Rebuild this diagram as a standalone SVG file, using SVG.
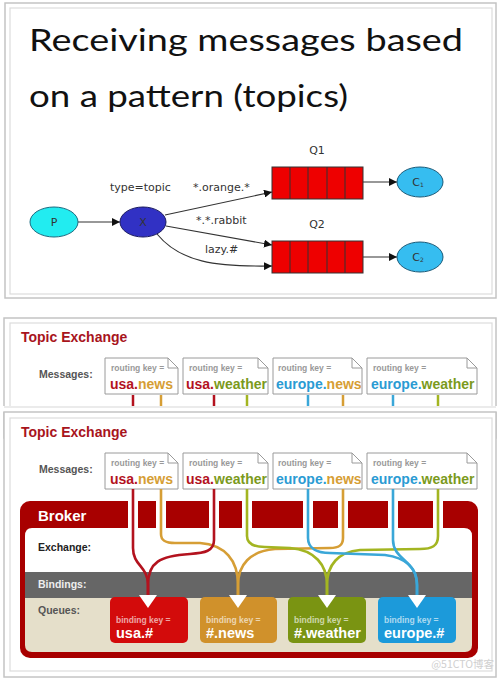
<svg xmlns="http://www.w3.org/2000/svg" width="500" height="678" viewBox="0 0 500 678">
<defs>
<marker id="ah" viewBox="0 0 10 10" refX="10" refY="5" markerWidth="8" markerHeight="8" markerUnits="userSpaceOnUse" orient="auto"><path d="M0,0 L10,5 L0,10 Z" fill="#111"/></marker>
<style>
.frame-o{fill:#fff;stroke:#c4c4c4;stroke-width:1.5}
.frame-i{fill:none;stroke:#dcdcdc;stroke-width:1.2}
.title{font-family:Lato,"Open Sans",sans-serif;font-size:31px;fill:#111}
.g{font-family:"DejaVu Sans",sans-serif;font-size:11px;fill:#333}
.edge{fill:none;stroke:#333;stroke-width:1.1}
.q{fill:#ee0000;stroke:#333;stroke-width:1}
.te{font-family:"Liberation Sans",Arial,sans-serif;font-weight:bold;font-size:14px;fill:#a8141c}
.lbl{font-family:"Liberation Sans",Arial,sans-serif;font-weight:bold;font-size:10.5px;fill:#555}
.msg{fill:#fff;stroke:#9a9a9a;stroke-width:1}
.rk{font-family:"Liberation Sans",Arial,sans-serif;font-weight:bold;font-size:8.5px;fill:#999}
.big{font-family:"Liberation Sans",Arial,sans-serif;font-weight:bold;font-size:14px}
.cr{fill:#b3121e}.co{fill:#d69e35}.cg{fill:#7b9a1c}.cb{fill:#2a9bd3}
.tick{stroke-width:2.5}
.route{fill:none;stroke-width:2.6}
.bk{font-family:"Liberation Sans",Arial,sans-serif;font-weight:bold;font-size:10.5px}
.bkt{font-family:"Liberation Sans",Arial,sans-serif;font-weight:bold;font-size:15px;fill:#fff}
.bq{font-family:"Liberation Sans",Arial,sans-serif;font-weight:bold;font-size:8.5px;fill:#fff;fill-opacity:0.65}
.bqb{font-family:"Liberation Sans",Arial,sans-serif;font-weight:bold;font-size:14.5px;fill:#fff}
</style>
</defs>
<rect width="500" height="678" fill="#fff"/>

<!-- Panel 1 -->
<g id="panel1">
<rect class="frame-o" x="5" y="3" width="491" height="295"/>
<rect class="frame-i" x="10" y="8" width="482" height="286"/>
<text class="title" x="29" y="51" textLength="434" lengthAdjust="spacingAndGlyphs">Receiving messages based</text>
<text class="title" x="29" y="107" textLength="319" lengthAdjust="spacingAndGlyphs">on a pattern (topics)</text>
</g>

<g id="connectors1">
<line class="edge" x1="78" y1="222" x2="120" y2="222" marker-end="url(#ah)"/>
<line class="edge" x1="165" y1="215" x2="272" y2="192" marker-end="url(#ah)"/>
<line class="edge" x1="166" y1="226" x2="272" y2="245" marker-end="url(#ah)"/>
<path class="edge" d="M157,234 C180,262 215,267 272,266" marker-end="url(#ah)"/>
<line class="edge" x1="363" y1="182" x2="397" y2="182" marker-end="url(#ah)"/>
<line class="edge" x1="363" y1="257" x2="397" y2="257" marker-end="url(#ah)"/>
<text class="g" x="110" y="191">type=topic</text>
<text class="g" x="193" y="191">*.orange.*</text>
<text class="g" x="196" y="224">*.*.rabbit</text>
<text class="g" x="205" y="253">lazy.#</text>
</g>

<g id="P"><ellipse cx="54" cy="222" rx="24" ry="15" fill="#22ecf0" stroke="#1a6b80" stroke-width="1"/><text class="g" x="54" y="226" text-anchor="middle" font-size="10">P</text></g>
<g id="X"><ellipse cx="143" cy="222" rx="23" ry="15" fill="#3131c4" stroke="#1a1a60" stroke-width="1"/><text class="g" x="143" y="226" text-anchor="middle" font-size="10" fill="#111">X</text></g>
<g id="Q1">
<text class="g" x="317" y="154" text-anchor="middle">Q1</text>
<rect class="q" x="272" y="167" width="91" height="32"/>
<path d="M290,167 V199 M308,167 V199 M327,167 V199 M345,167 V199" stroke="#333" stroke-width="1"/>
</g>
<g id="Q2">
<text class="g" x="317" y="228" text-anchor="middle">Q2</text>
<rect class="q" x="272" y="241" width="91" height="32"/>
<path d="M290,241 V273 M308,241 V273 M327,241 V273 M345,241 V273" stroke="#333" stroke-width="1"/>
</g>
<g id="C1"><ellipse cx="420" cy="182" rx="23" ry="15" fill="#36bdf0" stroke="#1a5a78" stroke-width="1"/><text class="g" x="418" y="186" text-anchor="middle" font-size="10">C<tspan font-size="6" dy="1">1</tspan></text></g>
<g id="C2"><ellipse cx="420" cy="257" rx="23" ry="15" fill="#36bdf0" stroke="#1a5a78" stroke-width="1"/><text class="g" x="418" y="261" text-anchor="middle" font-size="10">C<tspan font-size="6" dy="1">2</tspan></text></g>

<!-- Panel 2 -->
<g id="panel2">
<rect class="frame-o" x="4" y="318" width="492" height="120"/>
<rect class="frame-i" x="10" y="323" width="482" height="110"/>
<text class="te" x="21" y="342">Topic Exchange</text>
<text class="lbl" x="39" y="378">Messages:</text>
<g id="m2a"><path class="msg" d="M105,358 H168 L178,368 V394 H105 Z M168,358 V368 H178"/><text class="rk" x="111" y="371">routing key =</text><text class="big" x="110" y="389"><tspan class="cr">usa.</tspan><tspan class="co">news</tspan></text></g>
<g id="m2b"><path class="msg" d="M183,358 H258 L268,368 V394 H183 Z M258,358 V368 H268"/><text class="rk" x="189" y="371">routing key =</text><text class="big" x="186" y="389"><tspan class="cr">usa.</tspan><tspan class="cg">weather</tspan></text></g>
<g id="m2c"><path class="msg" d="M273,358 H352 L362,368 V394 H273 Z M352,358 V368 H362"/><text class="rk" x="278" y="371">routing key =</text><text class="big" x="276" y="389"><tspan class="cb">europe.</tspan><tspan class="co">news</tspan></text></g>
<g id="m2d"><path class="msg" d="M367,358 H467 L477,368 V394 H367 Z M467,358 V368 H477"/><text class="rk" x="373" y="371">routing key =</text><text class="big" x="371" y="389"><tspan class="cb">europe.</tspan><tspan class="cg">weather</tspan></text></g>
<g class="tick">
<line x1="133" y1="395" x2="133" y2="406" stroke="#b3121e"/>
<line x1="161" y1="395" x2="161" y2="406" stroke="#d69e35"/>
<line x1="214" y1="395" x2="214" y2="406" stroke="#b3121e"/>
<line x1="247" y1="395" x2="247" y2="406" stroke="#a3b521"/>
<line x1="308" y1="395" x2="308" y2="406" stroke="#3aa7d8"/>
<line x1="343" y1="395" x2="343" y2="406" stroke="#d69e35"/>
<line x1="393" y1="395" x2="393" y2="406" stroke="#3aa7d8"/>
<line x1="438" y1="395" x2="438" y2="406" stroke="#a3b521"/>
</g>
</g>

<!-- Panel 3 -->
<g id="panel3">
<rect x="0" y="406" width="500" height="6" fill="#fff"/>
<line x1="4" y1="407" x2="496" y2="407" stroke="#e4e4e4" stroke-width="1.5"/>
<rect class="frame-o" x="4" y="412" width="492" height="265"/>
<rect class="frame-i" x="10" y="418" width="482" height="253"/>
<text class="te" x="21" y="437">Topic Exchange</text>
<text class="lbl" x="39" y="473">Messages:</text>
<g id="m3a"><path class="msg" d="M105,453 H168 L178,463 V489 H105 Z M168,453 V463 H178"/><text class="rk" x="111" y="466">routing key =</text><text class="big" x="110" y="484"><tspan class="cr">usa.</tspan><tspan class="co">news</tspan></text></g>
<g id="m3b"><path class="msg" d="M183,453 H258 L268,463 V489 H183 Z M258,453 V463 H268"/><text class="rk" x="189" y="466">routing key =</text><text class="big" x="186" y="484"><tspan class="cr">usa.</tspan><tspan class="cg">weather</tspan></text></g>
<g id="m3c"><path class="msg" d="M273,453 H352 L362,463 V489 H273 Z M352,453 V463 H362"/><text class="rk" x="278" y="466">routing key =</text><text class="big" x="276" y="484"><tspan class="cb">europe.</tspan><tspan class="co">news</tspan></text></g>
<g id="m3d"><path class="msg" d="M367,453 H467 L477,463 V489 H367 Z M467,453 V463 H477"/><text class="rk" x="373" y="466">routing key =</text><text class="big" x="371" y="484"><tspan class="cb">europe.</tspan><tspan class="cg">weather</tspan></text></g>
</g>

<g id="broker">
<rect x="20" y="501" width="458" height="157" rx="10" fill="#a80000"/>
<path d="M32,528 H464 Q472,528 472,536 V572 H25 V536 Q25,528 32,528 Z" fill="#fff"/>
<rect x="25" y="572" width="447" height="26" fill="#666"/>
<path d="M25,598 H472 V645 Q472,652 465,652 H32 Q25,652 25,645 Z" fill="#e5dfca"/>
<g fill="#fff">
<rect x="128" y="501" width="10" height="27"/><rect x="156" y="501" width="10" height="27"/>
<rect x="209" y="501" width="10" height="27"/><rect x="242" y="501" width="10" height="27"/>
<rect x="303" y="501" width="10" height="27"/><rect x="338" y="501" width="10" height="27"/>
<rect x="388" y="501" width="10" height="27"/><rect x="433" y="501" width="10" height="27"/>
</g>
<text class="bkt" x="38" y="521">Broker</text>
<text class="bk" x="38" y="551" fill="#222">Exchange:</text>
<text class="bk" x="38" y="588" fill="#eee">Bindings:</text>
<text class="bk" x="38" y="614" fill="#555">Queues:</text>
</g>

<g id="queue-usa"><rect x="110" y="597" width="78" height="46" rx="5" fill="#d30b0b"/><text class="bq" x="116" y="623">binding key =</text><text class="bqb" x="116" y="638">usa.#</text></g>
<g id="queue-news"><rect x="200" y="597" width="77" height="46" rx="5" fill="#d0912b"/><text class="bq" x="206" y="623">binding key =</text><text class="bqb" x="206" y="638">#.news</text></g>
<g id="queue-weather"><rect x="288" y="597" width="78" height="46" rx="5" fill="#7a9412"/><text class="bq" x="294" y="623">binding key =</text><text class="bqb" x="294" y="638">#.weather</text></g>
<g id="queue-europe"><rect x="378" y="597" width="78" height="46" rx="5" fill="#1c9ada"/><text class="bq" x="384" y="623">binding key =</text><text class="bqb" x="384" y="638">europe.#</text></g>

<g id="routes">
<path class="route" stroke="#d69e35" d="M343,489 V538 C343,546 338,548 330,548 L275,549 C250,551 238,565 238,585 V597"/>
<path class="route" stroke="#d69e35" d="M161,489 V534 C161,541 166,543 175,543 L200,543 C225,545 238,560 238,585 V597"/>
<path class="route" stroke="#a3b521" d="M438,489 V536 C438,546 432,549 420,549 L360,550 C338,552 327,565 327,585 V597"/>
<path class="route" stroke="#a3b521" d="M247,489 V536 C247,544 255,547 265,547 L290,548 C315,550 327,565 327,585 V597"/>
<path class="route" stroke="#3aa7d8" d="M308,489 V538 C308,549 318,553 330,553 L385,555 C408,558 417,570 417,585 V597"/>
<path class="route" stroke="#3aa7d8" d="M393,489 V540 C393,560 417,560 417,585 V597"/>
<path class="route" stroke="#b3121e" d="M214,489 V540 C214,551 205,553 190,554 C160,556 148,562 148,585 V597"/>
<path class="route" stroke="#b3121e" d="M133,489 V548 C133,566 148,566 148,585 V597"/>
</g>
<g id="arrows" fill="#fff">
<path d="M139,595 H157 L148,608 Z"/>
<path d="M229,595 H247 L238,608 Z"/>
<path d="M318,595 H336 L327,608 Z"/>
<path d="M408,595 H426 L417,608 Z"/>
</g>

<text x="494" y="668" text-anchor="end" font-family="'Noto Sans CJK SC',sans-serif" font-size="10.5" fill="#d0d0d0">@51CTO博客</text>
</svg>
